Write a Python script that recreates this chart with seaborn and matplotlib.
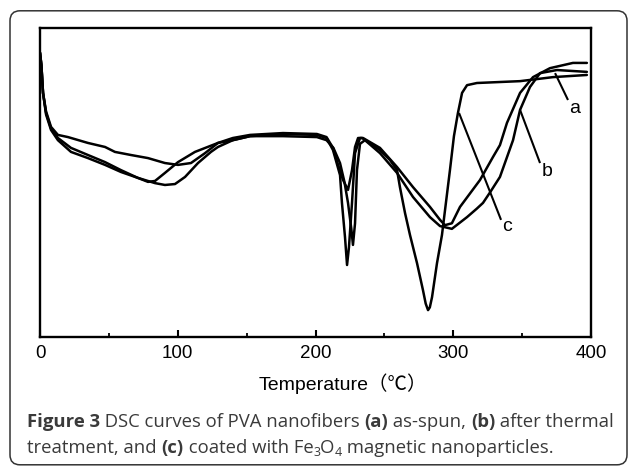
import numpy as np
import pandas as pd
import matplotlib
matplotlib.use('Agg')
import matplotlib.pyplot as plt
import seaborn as sns
from matplotlib.patches import FancyBboxPatch

# ---------------- data ----------------
T_a = [0, 1, 2.2, 4.4, 8, 13, 22.5, 34.8, 47.2, 58.8, 71, 78.4, 83.5, 90.7, 100.2,
       112.5, 129.2, 140, 152.5, 176.4, 201, 208, 212.7, 217.8, 219.2, 221.4, 222.9,
       224.3, 226.5, 228.7, 232.3, 234.5, 246.8, 259.2, 270.8, 283.1, 290.4, 294, 299,
       304.9, 319.4, 328.9, 333.9, 339, 348.5, 357.9, 370.2, 386.9, 397]
v_a = [92, 88, 79, 72.5, 67.5, 64.4, 61.2, 58.9, 56.6, 54, 51.5, 50.2, 50.5, 53.1, 56.6,
       59.9, 62.8, 63.7, 65, 65.7, 65.4, 64.4, 60.5, 52.4, 43.4, 32.4, 23.3,
       29.1, 43.4, 59.5, 64.4, 64.4, 61.2, 55, 48.5, 42.1, 37.9, 36.2, 36.8,
       42.1, 50.8, 58.3, 62.1, 69.3, 79, 84.1, 87, 88.7, 88.7]

T_b = [0, 1, 2.2, 4.4, 8, 13, 22.5, 34.8, 47.2, 58.8, 71, 83.5, 90.7, 98, 105.3, 114.7,
       124.1, 129.2, 140, 152.5, 176.4, 201, 208, 213, 217.8, 221, 223.6, 226, 227.2,
       228.7, 230.1, 232.3, 235.9, 246.8, 259.2, 270.8, 283.1, 290.4, 299, 310, 317,
       321.6, 327, 333.9, 343.4, 348.5, 355.7, 363, 375.3, 397]
v_b = [92, 88, 79, 72, 67, 63.7, 59.9, 57.9, 55.7, 53.4, 51.5, 49.8, 49.2, 49.5, 51.8, 56.3,
       59.9, 61.5, 63.7, 65, 65, 64.7, 63.7, 61.2, 56.3, 50.2, 43.4, 35, 29.8,
       36.8, 54, 62.5, 63.7, 59.5, 53.1, 45.3, 38.8, 35.9, 35, 38.8, 41.5,
       43.4, 47, 51.8, 63.7, 73.5, 80.9, 85.4, 86.4, 85.8]

T_c = [0, 1, 2.2, 4.4, 8, 13, 20.3, 34.8, 47.2, 54.4, 66, 78.4, 90.7, 100.2, 109.6, 119.8,
       129.2, 140, 152.5, 176.4, 201, 208, 212.7, 216.4, 220, 223.6, 226.5, 228.7, 230.9,
       233.8, 246.8, 254, 259.2, 261.3, 265, 268.6, 273.7, 278, 280, 281.7, 283, 284.6,
       288.2, 291.8, 297.6, 300.5, 303.4, 306.4, 310, 317.2, 348.5, 372.4, 397]
v_c = [92, 88, 79, 73, 68, 65.4, 64.7, 62.8, 61.5, 59.9, 58.9, 57.9, 56.3, 55.7, 56.3, 59.5,
       62.8, 64.4, 65.4, 66, 65.7, 64.7, 61.2, 55.7, 50.8, 47.6, 54, 61.5, 64.4,
       64.4, 60.5, 57.3, 54, 48.5, 40.1, 33, 23.9, 15.2, 10.8, 8.7, 9.6, 12.9,
       23.9, 33, 54, 65, 72.5, 79, 81.5, 82.2, 82.8, 84.1, 84.8]

x_major = [0, 100, 200, 300, 400]
x_minor = [50, 150, 250, 350]
x_label = 'Temperature（℃）'

curve_labels = ['a', 'b', 'c']
label_T = [388.4, 368, 339]
label_v = [74.1, 53.4, 35.6]
leader_T0 = [373.9, 348.5, 304.2]
leader_v0 = [85.4, 73.5, 72.5]
leader_T1 = [383.3, 363, 334.7]
leader_v1 = [76.7, 56.3, 37.9]

caption_line1 = [("Figure 3", True), (" DSC curves of PVA nanofibers ", False), ("(a)", True),
                 (" as-spun, ", False), ("(b)", True), (" after thermal", False)]
caption_line2 = [("treatment, and ", False), ("(c)", True), (" coated with Fe", False),
                 ("3", 'sub'), ("O", False), ("4", 'sub'), (" magnetic nanoparticles.", False)]

# ---------------- figure ----------------
sns.set_theme(style='white')
plt.rcParams['font.family'] = ['Liberation Sans', 'Noto Sans CJK SC', 'DejaVu Sans']

W, H = 629, 466
fig = plt.figure(figsize=(W / 100, H / 100), dpi=100)
fig.patch.set_facecolor('white')

ax = fig.add_axes([40 / W, 1 - 337 / H, (591 - 40) / W, (337 - 28) / H])
ax.set_facecolor('white')

for T, v in [(T_a, v_a), (T_b, v_b), (T_c, v_c)]:
    df = pd.DataFrame({'T': T, 'v': v})
    sns.lineplot(data=df, x='T', y='v', ax=ax, color='black', lw=1.8,
                 sort=False, estimator=None)

for lab, tx, ty, x0, y0, x1, y1 in zip(curve_labels, label_T, label_v,
                                       leader_T0, leader_v0, leader_T1, leader_v1):
    ax.plot([x0, x1], [y0, y1], color='black', lw=1.5, solid_capstyle='butt')
    ax.text(tx, ty, lab, fontsize=14, ha='center', va='center', color='black')

ax.set_xlim(0, 400)
ax.set_ylim(0, 100)
ax.set_xticks(x_major)
ax.set_xticks(x_minor, minor=True)
ax.set_xticklabels([str(t) for t in x_major])
ax.set_yticks([])
ax.set_ylabel('')
ax.tick_params(axis='x', which='major', bottom=True, direction='in', length=5,
               width=1.5, labelsize=13.5, pad=6, colors='black')
ax.tick_params(axis='x', which='minor', bottom=True, direction='in', length=3,
               width=1.3, colors='black')
for s in ax.spines.values():
    s.set_visible(True)
    s.set_linewidth(1.7)
    s.set_color('black')
ax.set_xlabel(x_label, fontsize=14, color='black')
ax.xaxis.set_label_coords((343 - 40) / (591 - 40), -(384 - 337) / (337 - 28))
ax.xaxis.label.set_va('center')

# outer rounded frame
frame = FancyBboxPatch((0.10, 0.012), 6.17, 4.54,
                       boxstyle='round,pad=0,rounding_size=0.1',
                       transform=fig.dpi_scale_trans, fill=False,
                       edgecolor='#333333', lw=1.1)
fig.add_artist(frame)

# caption
renderer = fig.canvas.get_renderer()
cap_color = '#3a3a3a'
cap_size = 13.3


def rich_line(pieces, x_px, base_px):
    cur = x_px
    for txt, kind in pieces:
        size = cap_size
        dy = 0
        weight = 'normal'
        if kind is True:
            weight = 'bold'
        elif kind == 'sub':
            size = cap_size * 0.68
            dy = 3
        t = fig.text(cur / W, 1 - (base_px + dy) / H, txt, fontsize=size,
                     fontweight=weight, color=cap_color,
                     family=['Open Sans', 'DejaVu Sans'], ha='left', va='baseline')
        cur += t.get_window_extent(renderer).width


rich_line(caption_line1, 27, 427)
rich_line(caption_line2, 27, 453)

fig.savefig('out.png', dpi=100, facecolor='white')
